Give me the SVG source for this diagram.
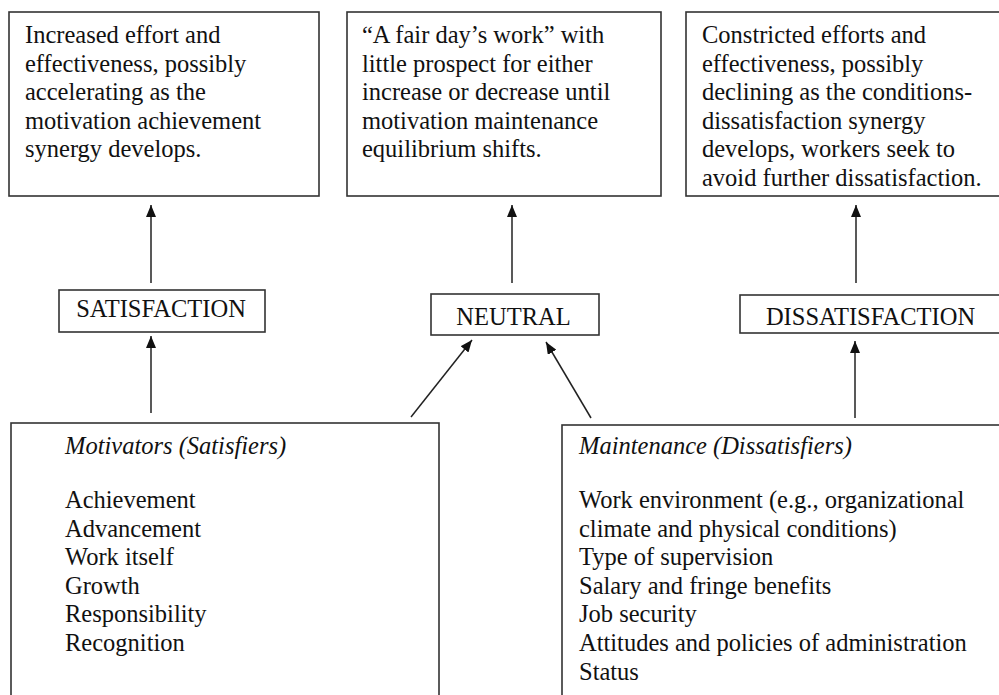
<svg xmlns="http://www.w3.org/2000/svg" width="999" height="695" viewBox="0 0 999 695">
<defs>
<marker id="ah" markerUnits="userSpaceOnUse" markerWidth="12" markerHeight="10" refX="12" refY="5" orient="auto">
<path d="M0,0 L12,5 L0,10 z" fill="#111"/>
</marker>
<style>
.box{fill:#fff;stroke:#333;stroke-width:1.6}
.t{font-family:"Liberation Serif","Times New Roman",serif;font-size:24.5px;fill:#111}
.i{font-style:italic}
.c{stroke:#222;stroke-width:1.5;fill:none;marker-end:url(#ah)}
</style>
</defs>
<rect width="999" height="695" fill="#fff"/>
<g id="outcome-satisfaction">
<rect class="box" x="9" y="12" width="310" height="184"/>
<text class="t" x="25" y="43">Increased effort and</text>
<text class="t" x="25" y="71.5">effectiveness, possibly</text>
<text class="t" x="25" y="100">accelerating as the</text>
<text class="t" x="25" y="128.5">motivation achievement</text>
<text class="t" x="25" y="157">synergy develops.</text>
</g>
<g id="outcome-neutral">
<rect class="box" x="347" y="12" width="314" height="184"/>
<text class="t" x="362" y="43">“A fair day’s work” with</text>
<text class="t" x="362" y="71.5">little prospect  for either</text>
<text class="t" x="362" y="100">increase or  decrease until</text>
<text class="t" x="362" y="128.5">motivation maintenance</text>
<text class="t" x="362" y="157">equilibrium  shifts.</text>
</g>
<g id="outcome-dissatisfaction">
<rect class="box" x="686" y="12" width="330" height="184"/>
<text class="t" x="702" y="43">Constricted efforts and</text>
<text class="t" x="702" y="71.5">effectiveness, possibly</text>
<text class="t" x="702" y="100">declining as the conditions-</text>
<text class="t" x="702" y="128.5">dissatisfaction synergy</text>
<text class="t" x="702" y="157">develops, workers seek to</text>
<text class="t" x="702" y="185.5">avoid further dissatisfaction.</text>
</g>
<g id="satisfaction">
<rect class="box" x="59" y="290" width="206" height="42"/>
<text class="t" x="161" y="317" text-anchor="middle" font-size="23">SATISFACTION</text>
</g>
<g id="neutral">
<rect class="box" x="431" y="294" width="168" height="41"/>
<text class="t" x="513.5" y="325" text-anchor="middle" font-size="25.5">NEUTRAL</text>
</g>
<g id="dissatisfaction">
<rect class="box" x="740" y="295" width="280" height="38"/>
<text class="t" x="870.5" y="325" text-anchor="middle" font-size="26">DISSATISFACTION</text>
</g>
<g id="motivators">
<rect class="box" x="11" y="423" width="428" height="290"/>
<text class="t i" x="65" y="454">Motivators (Satisfiers)</text>
<text class="t" x="65" y="508">Achievement</text>
<text class="t" x="65" y="537">Advancement</text>
<text class="t" x="65" y="565">Work itself</text>
<text class="t" x="65" y="594">Growth</text>
<text class="t" x="65" y="622">Responsibility</text>
<text class="t" x="65" y="651">Recognition</text>
</g>
<g id="maintenance">
<rect class="box" x="562" y="425" width="460" height="290"/>
<text class="t i" x="579" y="454">Maintenance (Dissatisfiers)</text>
<text class="t" x="579" y="508">Work environment (e.g., organizational</text>
<text class="t" x="579" y="537">climate and physical  conditions)</text>
<text class="t" x="579" y="565">Type of supervision</text>
<text class="t" x="579" y="594">Salary and fringe benefits</text>
<text class="t" x="579" y="622">Job security</text>
<text class="t" x="579" y="651">Attitudes and policies of administration</text>
<text class="t" x="579" y="680">Status</text>
</g>
<g id="connectors">
<line class="c" x1="151" y1="283" x2="151" y2="205"/>
<line class="c" x1="512" y1="283" x2="512" y2="205"/>
<line class="c" x1="856" y1="283" x2="856" y2="205"/>
<line class="c" x1="151" y1="413" x2="151" y2="336"/>
<line class="c" x1="411" y1="417" x2="472" y2="340"/>
<line class="c" x1="591" y1="418" x2="546" y2="342"/>
<line class="c" x1="855" y1="418" x2="855" y2="341"/>
</g>
</svg>
